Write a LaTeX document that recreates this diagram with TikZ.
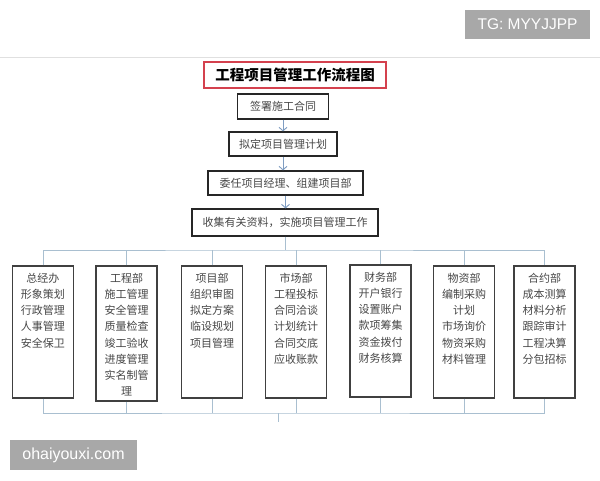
\documentclass[tikz,border=0pt]{standalone}
\usepackage{fontspec}
\newfontfamily\cjk{Noto Sans CJK SC}
\newfontfamily\wmfont{Liberation Sans}
\usetikzlibrary{arrows.meta,positioning}
\definecolor{linkblue}{HTML}{A9BFD0}
\definecolor{arrowblue}{HTML}{7F9DC2}
\definecolor{titlered}{HTML}{D4414E}
\definecolor{markgray}{HTML}{A8A8A8}
\newcommand{\dtext}[2][132pt]{\parbox[c][#1][t]{61pt}{\centering\vspace*{7pt}#2}}

\begin{document}
\begin{tikzpicture}[x=1pt,y=-1pt,
	every node/.style={font=\cjk\fontsize{11}{16.2}\selectfont,text=black!72},
	flow/.style={draw=black!85,line width=1.2pt,minimum height=24pt,inner sep=0pt},
	dept/.style={draw=black!75,line width=1.1pt,inner sep=0pt},
	bus/.style={draw=linkblue,line width=0.9pt},
	down/.style={draw=arrowblue,line width=0.9pt,-{Straight Barb[length=3.5pt,width=8pt]}},
	wmark/.style={fill=markgray,text=white,inner sep=0pt}]
	\useasboundingbox (0,0) rectangle (600,480);
	\fill[white] (0,0) rectangle (600,480);
	\draw[black!12,line width=0.8pt] (0,57) -- (600,57);
	
	% watermarks
	\node[wmark,minimum width=125pt,minimum height=29pt,font=\wmfont\fontsize{15.5}{18}\selectfont] (tg) at (527.5,24.5) {TG: MYYJJPP};
	\node[wmark,minimum width=127pt,minimum height=30pt,font=\wmfont\fontsize{16}{18}\selectfont] (site) at (73.5,455) {ohaiyouxi.com};
	
	% flow
	\node[draw=titlered,line width=2.5pt,minimum width=182pt,minimum height=26pt,inner sep=0pt,text=black,
	      font=\cjk\bfseries\fontsize{14.5}{16}\selectfont] (title) at (295,75) {工程项目管理工作流程图};
	\node[flow,minimum width=91pt,minimum height=25pt] (qs) at (283,106.5) {签署施工合同};
	\node[flow,minimum width=108pt] (nd) at (283,144) {拟定项目管理计划};
	\node[flow,minimum width=155pt] (wr) at (285.5,183) {委任项目经理、组建项目部};
	\node[flow,minimum width=186pt,minimum height=27pt] (sj) at (285,222.5) {收集有关资料，实施项目管理工作};
	\draw[down] (qs.south) -- (qs.south |- nd.north);
	\draw[down] (nd.south) -- (nd.south |- wr.north);
	\draw[down] (wr.south) -- (wr.south |- sj.north);
	
	% departments
	\node[dept] (zjb) at (43,332) {\dtext{总经办\\形象策划\\行政管理\\人事管理\\安全保卫}};
	\node[dept] (gcb) at (126.5,333.5) {\dtext[135pt]{工程部\\施工管理\\安全管理\\质量检查\\竣工验收\\进度管理\\实名制管\\理}};
	\node[dept] (xmb) at (212,332) {\dtext{项目部\\组织审图\\拟定方案\\临设规划\\项目管理}};
	\node[dept] (scb) at (296,332) {\dtext{市场部\\工程投标\\合同洽谈\\计划统计\\合同交底\\应收账款}};
	\node[dept] (cwb) at (380.5,331) {\dtext{财务部\\开户银行\\设置账户\\款项筹集\\资金拨付\\财务核算}};
	\node[dept] (wzb) at (464,332) {\dtext{物资部\\编制采购\\计划\\市场询价\\物资采购\\材料管理}};
	\node[dept] (hyb) at (544.5,332) {\dtext{合约部\\成本测算\\材料分析\\跟踪审计\\工程决算\\分包招标}};
	
	% buses
	\coordinate (topbus) at (285,250);
	\coordinate (botbus) at (278,413);
	\coordinate (botend) at (278,422);
	\draw[bus] (sj) -- (topbus);
	\draw[bus] (zjb.north) |- (topbus) -| (hyb.north);
	\draw[bus] (gcb.north) -- (gcb.north |- topbus);
	\draw[bus] (xmb.north) -- (xmb.north |- topbus);
	\draw[bus] (scb.north) -- (scb.north |- topbus);
	\draw[bus] (cwb.north) -- (cwb.north |- topbus);
	\draw[bus] (wzb.north) -- (wzb.north |- topbus);
	\draw[bus] (zjb.south) |- (botbus) -| (hyb.south);
	\draw[bus] (gcb.south) -- (gcb.south |- botbus);
	\draw[bus] (xmb.south) -- (xmb.south |- botbus);
	\draw[bus] (scb.south) -- (scb.south |- botbus);
	\draw[bus] (cwb.south) -- (cwb.south |- botbus);
	\draw[bus] (wzb.south) -- (wzb.south |- botbus);
	\draw[bus] (botbus) -- (botend);
\end{tikzpicture}
\end{document}
